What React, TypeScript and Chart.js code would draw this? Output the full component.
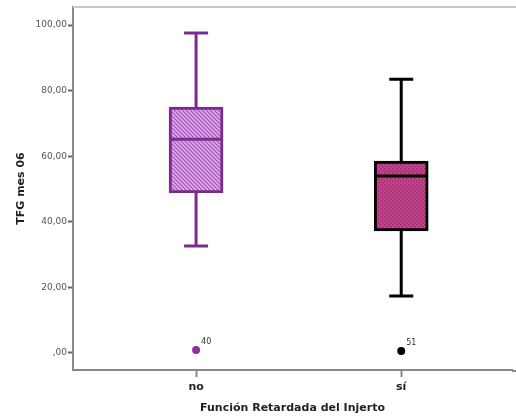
import React, { useEffect, useRef } from "react";
import { Chart, registerables } from "chart.js";

Chart.register(...registerables);

const categories = ["no", "sí"];
const whiskerLow = [32.6, 17.4];
const q1 = [48.8, 37.2];
const median = [65.2, 54.0];
const q3 = [75.0, 58.5];
const whiskerHigh = [97.6, 83.5];
const outlierValues = [0.9, 0.6];
const outlierIds = ["40", "51"];
const yTicks = [0, 20, 40, 60, 80, 100];

const lineColors = ["#7b2a8e", "#000000"];
const outlierColors = ["#8e2fa0", "#000000"];

function makeHatch(): CanvasPattern | string {
  const c = document.createElement("canvas");
  c.width = 4;
  c.height = 4;
  const g = c.getContext("2d")!;
  g.fillStyle = "#dcaee8";
  g.fillRect(0, 0, 4, 4);
  g.strokeStyle = "#a94dbd";
  g.lineWidth = 1.2;
  g.beginPath();
  g.moveTo(-1, -1);
  g.lineTo(5, 5);
  g.moveTo(-1, 3);
  g.lineTo(1, 5);
  g.moveTo(3, -1);
  g.lineTo(5, 1);
  g.stroke();
  return g.createPattern(c, "repeat") || "#c27fd0";
}

function makeDots(): CanvasPattern | string {
  const c = document.createElement("canvas");
  c.width = 4;
  c.height = 4;
  const g = c.getContext("2d")!;
  g.fillStyle = "#c2448a";
  g.fillRect(0, 0, 4, 4);
  g.fillStyle = "#9c2a6c";
  g.fillRect(0, 0, 1.5, 1.5);
  g.fillRect(2, 2, 1.5, 1.5);
  return g.createPattern(c, "repeat") || "#b8407f";
}

const boxPlugin = {
  id: "boxParts",
  beforeDatasetsDraw(chart: any) {
    const { ctx, scales, chartArea } = chart;
    const x = scales.x;
    const y = scales.y;
    ctx.save();
    ctx.strokeStyle = "#c8c8c8";
    ctx.lineWidth = 2;
    ctx.beginPath();
    ctx.moveTo(chartArea.left, chartArea.top);
    ctx.lineTo(chart.width, chartArea.top);
    ctx.stroke();
    ctx.strokeStyle = "#888";
    ctx.beginPath();
    ctx.moveTo(chartArea.right, chartArea.bottom + 1);
    ctx.lineTo(chart.width, chartArea.bottom + 1);
    ctx.stroke();
    categories.forEach((_, i) => {
      const cx = x.getPixelForValue(i + 1);
      ctx.strokeStyle = lineColors[i];
      ctx.lineWidth = 3;
      ctx.beginPath();
      ctx.moveTo(cx, y.getPixelForValue(whiskerLow[i]));
      ctx.lineTo(cx, y.getPixelForValue(q1[i]));
      ctx.moveTo(cx, y.getPixelForValue(q3[i]));
      ctx.lineTo(cx, y.getPixelForValue(whiskerHigh[i]));
      const capHalf = 12;
      [whiskerLow[i], whiskerHigh[i]].forEach((v) => {
        const py = y.getPixelForValue(v);
        ctx.moveTo(cx - capHalf, py);
        ctx.lineTo(cx + capHalf, py);
      });
      ctx.stroke();
    });
    ctx.restore();
  },
  afterDatasetsDraw(chart: any) {
    const { ctx, scales } = chart;
    const x = scales.x;
    const y = scales.y;
    ctx.save();
    categories.forEach((_, i) => {
      const cx = x.getPixelForValue(i + 1);
      const half = 26;
      ctx.strokeStyle = lineColors[i];
      ctx.lineWidth = 3;
      const my = y.getPixelForValue(median[i]);
      ctx.beginPath();
      ctx.moveTo(cx - half, my);
      ctx.lineTo(cx + half, my);
      ctx.stroke();
      const oy = y.getPixelForValue(outlierValues[i]);
      ctx.fillStyle = "#333";
      ctx.font = "8px 'DejaVu Sans'";
      ctx.textAlign = "left";
      ctx.textBaseline = "alphabetic";
      ctx.fillText(outlierIds[i], cx + 5, oy - 6);
    });
    ctx.restore();
  },
};

export default function App() {
  const ref = useRef<HTMLCanvasElement>(null);
  useEffect(() => {
    if (!ref.current) return;
    const fills = [makeHatch(), makeDots()];
    const chart = new Chart(ref.current, {
      type: "bar",
      data: {
        datasets: [
          {
            type: "bar",
            data: categories.map((_, i) => ({ x: i + 1, y: [q1[i], q3[i]] })) as any,
            backgroundColor: fills as any,
            borderColor: lineColors,
            borderWidth: 3,
            borderSkipped: false,
            barThickness: 54,
            order: 2,
          } as any,
          {
            type: "scatter",
            data: categories.map((_, i) => ({ x: i + 1, y: outlierValues[i] })),
            pointBackgroundColor: outlierColors,
            pointBorderColor: outlierColors,
            pointRadius: 4,
            pointBorderWidth: 0,
            showLine: false,
            order: 1,
          } as any,
        ],
      },
      options: {
        animation: false,
        responsive: false,
        maintainAspectRatio: false,
        layout: { padding: { left: 0, right: 0, top: 7, bottom: 0 } },
        plugins: { legend: { display: false }, tooltip: { enabled: false } },
        scales: {
          x: {
            type: "linear",
            min: 0.4,
            max: 2.54,
            offset: false,
            afterBuildTicks: (s: any) => {
              s.ticks = [{ value: 1 }, { value: 2 }];
            },
            afterFit: (s: any) => {
              s.height = 50;
            },
            grid: {
              offset: false,
              drawOnChartArea: false,
              drawTicks: true,
              tickLength: 7,
              tickColor: "#888",
              tickWidth: 2,
            },
            border: { color: "#888", width: 2 },
            ticks: {
              callback: (v: any) => categories[Number(v) - 1] ?? "",
              color: "#222",
              font: { family: "'DejaVu Sans'", size: 11, weight: "bold" },
              padding: 4,
              maxRotation: 0,
            },
            title: {
              display: true,
              text: "Función Retardada del Injerto",
              color: "#222",
              font: { family: "'DejaVu Sans'", size: 11, weight: "bold" },
              padding: { top: 2, bottom: 5 },
            },
          },
          y: {
            type: "linear",
            min: -5.2,
            max: 105.5,
            afterBuildTicks: (s: any) => {
              s.ticks = yTicks.map((v) => ({ value: v }));
            },
            afterFit: (s: any) => {
              s.width = 73;
            },
            grid: {
              drawOnChartArea: false,
              drawTicks: true,
              tickLength: 5,
              tickColor: "#666",
              tickWidth: 2,
            },
            border: { color: "#888", width: 2 },
            ticks: {
              callback: (v: any) => (v === 0 ? ",00" : `${v},00`),
              color: "#555",
              font: { family: "'DejaVu Sans'", size: 9 },
              padding: 1,
            },
            title: {
              display: true,
              text: "TFG mes 06",
              color: "#222",
              font: { family: "'DejaVu Sans'", size: 11, weight: "bold" },
              padding: { top: 15, bottom: 0 },
            },
          },
        },
      },
      plugins: [boxPlugin],
    });
    return () => chart.destroy();
  }, []);
  return (
    <div style={{ position: "fixed", left: 0, top: 0, width: 516, height: 420, background: "#fff" }}>
      <canvas ref={ref} width={516} height={420} style={{ width: 516, height: 420 }} />
    </div>
  );
}
